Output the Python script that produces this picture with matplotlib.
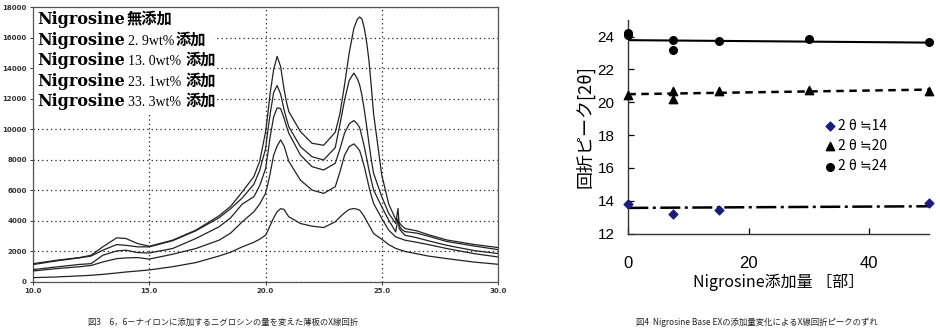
import matplotlib
matplotlib.use("Agg")
import matplotlib.pyplot as plt
from matplotlib.patches import Rectangle

plt.rcParams['font.family'] = ['DejaVu Sans', 'Noto Sans CJK JP']
JP = ['Noto Sans CJK JP', 'DejaVu Sans']

# ---- Fig.3: X-ray diffraction curves, intensity vs 2theta ----
two_theta = [10, 11, 12, 12.5, 13, 13.6, 14, 14.5, 15, 16, 17, 18, 18.5, 19, 19.5,
             19.75, 20, 20.1, 20.2, 20.35, 20.5, 20.65, 20.8, 20.9, 21,
             21.5, 22, 22.5,
             23, 23.2, 23.4, 23.6, 23.8, 23.95, 24.05, 24.15, 24.25, 24.35, 24.45, 24.55, 24.65,
             25, 25.3, 25.6, 25.7, 25.75, 25.85, 26, 26.5, 27, 27.8, 29, 30]
xrd_a = [1200, 1420, 1600, 1750, 2300, 2890, 2845, 2515, 2340, 2735, 3390, 4330, 4950, 5900, 6900,
         7900, 9800, 11000, 12360, 13900, 14770, 14100, 12600, 11800, 11160,
         9850, 9080, 8950,
         9800, 11000, 12900, 15000, 16600, 17200, 17350, 17200, 16600, 15700, 14500, 12800, 11000,
         7000, 5100, 4100, 4000, 3900, 3700, 3500, 3350, 3100, 2750, 2450, 2255]
xrd_b = [1140, 1380, 1580, 1700, 2080, 2450, 2400, 2300, 2300, 2700, 3350, 4200, 4800, 5500, 6400,
         7300, 8700, 9900, 11000, 12400, 12860, 12300, 11270, 10700, 10170,
         8860, 8200, 7990,
         8800, 10300, 11900, 13200, 13675, 13300, 12900, 12200, 11270, 10200, 9080, 8000, 7110,
         5580, 4490, 3830, 4810, 3700, 3450, 3300, 3200, 3000, 2650, 2350, 2120]
xrd_c = [810, 985, 1150, 1200, 1750, 2035, 2080, 1925, 1900, 2190, 2845, 3610, 4200, 5100, 5580,
         6300, 7400, 8400, 9500, 10800, 11400, 11350, 10720, 10200, 9740,
         8315, 7550, 7330,
         7770, 8700, 9740, 10350, 10570, 10350, 10100, 9500, 8860, 8100, 7330, 6650, 6020,
         4920, 4050, 3280, 4160, 3500, 3300, 3060, 2900, 2700, 2400, 2050, 1860]
xrd_d = [720, 875, 1000, 1080, 1310, 1530, 1575, 1600, 1500, 1815, 2190, 2735, 3200, 3940, 4600,
         5100, 5800, 6400, 7110, 8300, 8900, 9300, 8900, 8400, 7900,
         6670, 6020, 5800,
         6235, 7200, 8300, 8860, 9040, 8800, 8600, 8100, 7550, 6900, 6235, 5650, 5140,
         4160, 3390, 2950, 2900, 2870, 2820, 2735, 2600, 2450, 2190, 1850, 1640]
xrd_e = [285, 330, 400, 440, 500, 590, 655, 720, 790, 1000, 1270, 1700, 1950, 2300, 2600,
         2800, 3060, 3350, 3700, 4200, 4600, 4800, 4750, 4500, 4270,
         3830, 3655, 3565,
         3940, 4250, 4530, 4750, 4810, 4760, 4700, 4500, 4270, 4000, 3720, 3450, 3170,
         2800, 2450, 2200, 2150, 2120, 2080, 2000, 1850, 1700, 1530, 1300, 1160]

curve_labels_amount = ["", "2. 9wt%", "13. 0wt%", "23. 1wt%", "33. 3wt%"]
curve_labels_suffix = ["無添加", "添加", "添加", "添加", "添加"]
xrd_xticks = [10, 15, 20, 25, 30]
xrd_xticklabels = ["10.0", "15.0", "20.0", "25.0", "30.0"]
xrd_yticks = [0, 2000, 4000, 6000, 8000, 10000, 12000, 14000, 16000, 18000]

# ---- Fig.4: peak position vs Nigrosine amount ----
parts14 = [0, 7.5, 15, 50]
peak14 = [13.8, 13.21, 13.43, 13.84]
parts20 = [0, 7.5, 7.5, 15, 30, 50]
peak20 = [20.47, 20.69, 20.17, 20.69, 20.77, 20.69]
parts24 = [0, 0, 7.5, 7.5, 15, 30, 50]
peak24 = [24.22, 24.08, 23.78, 23.21, 23.72, 23.88, 23.68]
trend_parts = [0, 50]
trend14 = [13.57, 13.67]
trend20 = [20.49, 20.77]
trend24 = [23.78, 23.63]

fig = plt.figure(figsize=(9.4, 3.35), dpi=100)

# left panel
ax1 = fig.add_axes([33/940, 53/335, 465/940, 275/335])
for ys in [xrd_a, xrd_b, xrd_c, xrd_d, xrd_e]:
    ax1.plot(two_theta, ys, color='#222222', lw=0.9, zorder=3)
ax1.set_xlim(10, 30)
ax1.set_ylim(0, 18000)
ax1.set_xticks(xrd_xticks)
ax1.set_xticklabels(xrd_xticklabels)
ax1.set_yticks(xrd_yticks)
ax1.set_yticklabels([str(v) for v in xrd_yticks])
ax1.tick_params(axis='both', labelsize=5, length=2.5, width=0.7, pad=2, colors='#333333')
for lab in ax1.get_xticklabels() + ax1.get_yticklabels():
    lab.set_fontweight('bold')
ax1.grid(True, color='#222222', linestyle=(0, (1, 2.5)), lw=0.9)
for sp in ax1.spines.values():
    sp.set_color('#555555')
    sp.set_linewidth(0.9)
ax1.add_patch(Rectangle((0.002, 0.618), 0.388, 0.38, transform=ax1.transAxes,
                        facecolor='white', edgecolor='none', zorder=1.8))

row_base = [0.938, 0.862, 0.789, 0.713, 0.640]
suffix_x = [0.202, 0.3075, 0.329, 0.329, 0.329]
for i in range(5):
    ax1.text(0.0086, row_base[i], "Nigrosine", transform=ax1.transAxes, va='baseline',
             family='DejaVu Serif', fontweight='bold', fontsize=11.5, zorder=5)
    if curve_labels_amount[i]:
        ax1.text(0.204, row_base[i], curve_labels_amount[i], transform=ax1.transAxes,
                 va='baseline', family='Liberation Serif', fontsize=10, zorder=5)
    ax1.text(suffix_x[i], row_base[i], curve_labels_suffix[i], transform=ax1.transAxes,
             va='baseline', family=JP, fontweight='bold', fontsize=11, zorder=5)

# right panel
ax2 = fig.add_axes([628.3/940, 101.3/335, 301/940, 213.6/335])
ax2.plot(trend_parts, trend24, color='black', lw=1.5)
ax2.plot(trend_parts, trend20, color='black', lw=1.8, linestyle=(0, (3, 2.2)))
ax2.plot(trend_parts, trend14, color='black', lw=1.8, linestyle=(0, (8, 1.8, 1.2, 1.8)))
h14 = ax2.scatter(parts14, peak14, marker='D', s=20, color='#1c1c78', clip_on=False, zorder=4,
                  label="2 θ ≒14")
h20 = ax2.scatter(parts20, peak20, marker='^', s=36, color='black', clip_on=False, zorder=4,
                  label="2 θ ≒20")
h24 = ax2.scatter(parts24, peak24, marker='o', s=30, color='black', clip_on=False, zorder=4,
                  label="2 θ ≒24")
ax2.set_xlim(0, 50)
ax2.set_ylim(12, 25)
ax2.set_xticks([0, 20, 40])
ax2.set_yticks([12, 14, 16, 18, 20, 22, 24])
ax2.spines['top'].set_visible(False)
ax2.spines['right'].set_visible(False)
for sp in ('left', 'bottom'):
    ax2.spines[sp].set_color('#333333')
    ax2.spines[sp].set_linewidth(1.0)
ax2.tick_params(axis='both', direction='in', length=4, width=0.9)
ax2.tick_params(axis='x', labelsize=12, pad=16)
ax2.tick_params(axis='y', labelsize=11, pad=10)
for lab in ax2.get_xticklabels() + ax2.get_yticklabels():
    lab.set_family('Liberation Sans')
ax2.set_ylabel("回折ピーク[2θ]", family=JP, fontsize=13, labelpad=2)
ax2.set_xlabel("Nigrosine添加量 ［部］", family=JP, fontsize=11.5, labelpad=2)
ax2.legend(handles=[h14, h20, h24], frameon=False, loc='center left',
           bbox_to_anchor=(0.655, 0.41), borderaxespad=0, borderpad=0,
           handlelength=0.6, handletextpad=0.3, labelspacing=0.45,
           prop={'family': JP, 'size': 10})

# captions
fig.text(0.237, 0.039, "図3　6，6－ナイロンに添加するニグロシンの量を変えた薄板のX線回折",
         family=JP, fontsize=6, ha='center', va='center', color='#222222')
fig.text(0.805, 0.039, "図4  Nigrosine Base EXの添加量変化によるX線回折ピークのずれ",
         family=JP, fontsize=6, ha='center', va='center', color='#222222')

fig.savefig("out.png", dpi=100)
